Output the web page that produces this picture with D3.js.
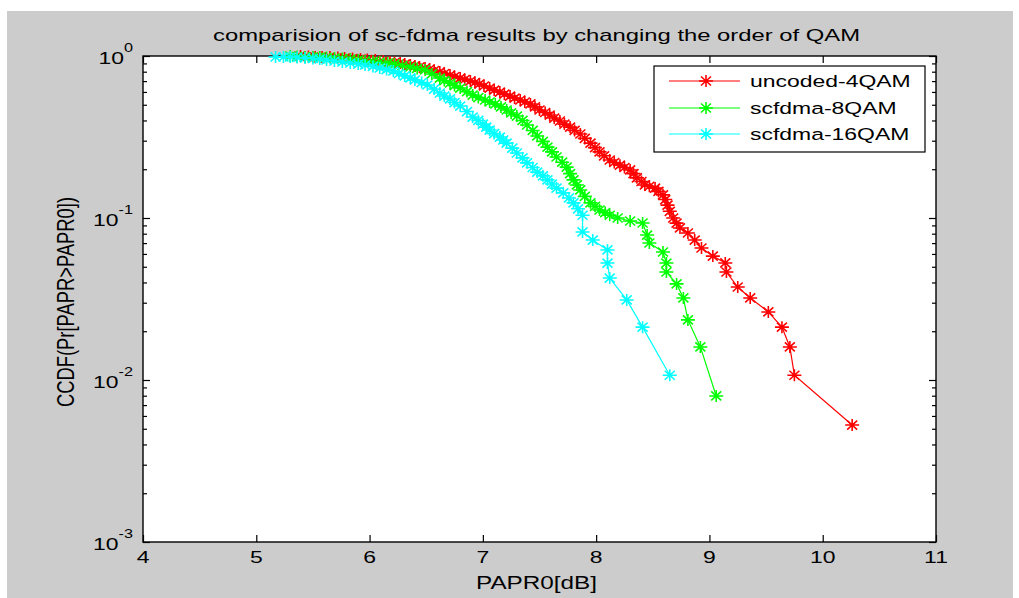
<!DOCTYPE html>
<html>
<head>
<meta charset="utf-8">
<script src="https://cdn.jsdelivr.net/npm/d3@7"></script>
<style>
  html, body { margin: 0; padding: 0; background: #ffffff; }
  svg { display: block; }
  text { font-family: "Liberation Sans", Arial, sans-serif; fill: #000; }
</style>
</head>
<body>
<svg id="chart" width="1019" height="598"></svg>
<script>
// ---------------- data ----------------
const chartTitle = "comparision of sc-fdma results by changing the order of QAM";
const xLabel = "PAPR0[dB]";
const yLabel = "CCDF(Pr[PAPR>PAPR0])";
const seriesNames = ["uncoded-4QAM", "scfdma-8QAM", "scfdma-16QAM"];
const seriesColors = ["#ff0000", "#00ff00", "#00ffff"];

const xTicks = [4, 5, 6, 7, 8, 9, 10, 11];
const yTicks = [1e-3, 1e-2, 1e-1, 1];
const yTickExponents = ["-3", "-2", "-1", "0"];

// [PAPR0 dB, CCDF]
const uncodedPoints = [
  [5.39, 1.000], [5.46, 0.993], [5.52, 0.986], [5.58, 0.986], [5.65, 0.986], [5.72, 0.979], [5.78, 0.972],
  [5.85, 0.965], [5.92, 0.958], [5.98, 0.951], [6.05, 0.945], [6.12, 0.931], [6.18, 0.918], [6.22, 0.912],
  [6.27, 0.905], [6.31, 0.892], [6.36, 0.880], [6.40, 0.868], [6.44, 0.855], [6.49, 0.843], [6.53, 0.831],
  [6.57, 0.814], [6.62, 0.797], [6.66, 0.780], [6.71, 0.763], [6.75, 0.747], [6.80, 0.731], [6.84, 0.716],
  [6.89, 0.701], [6.93, 0.686], [6.97, 0.672], [7.01, 0.653], [7.06, 0.634], [7.10, 0.616], [7.15, 0.599],
  [7.19, 0.582], [7.24, 0.566], [7.28, 0.550], [7.33, 0.535], [7.37, 0.520], [7.42, 0.506], [7.46, 0.485],
  [7.50, 0.464], [7.55, 0.448], [7.59, 0.432], [7.63, 0.414], [7.68, 0.397], [7.72, 0.380], [7.77, 0.364],
  [7.81, 0.347], [7.86, 0.330], [7.90, 0.310], [7.95, 0.290], [7.99, 0.272], [8.03, 0.256], [8.07, 0.242],
  [8.12, 0.228], [8.16, 0.220], [8.21, 0.212], [8.25, 0.205], [8.30, 0.198], [8.33, 0.188], [8.36, 0.177],
  [8.40, 0.168], [8.43, 0.160], [8.47, 0.157], [8.52, 0.153], [8.55, 0.146], [8.59, 0.139], [8.61, 0.130],
  [8.63, 0.120], [8.65, 0.110], [8.68, 0.100], [8.71, 0.093], [8.74, 0.0868], [8.81, 0.0808], [8.87, 0.0731],
  [8.93, 0.0653], [9.03, 0.0582], [9.14, 0.0528], [9.15, 0.0464], [9.25, 0.0375], [9.36, 0.0321], [9.52, 0.0263],
  [9.64, 0.0212], [9.71, 0.0160], [9.75, 0.0107], [10.26, 0.00527]
];

const qam8Points = [
  [5.30, 1.000], [5.36, 0.993], [5.43, 0.986], [5.50, 0.986], [5.56, 0.986], [5.62, 0.979], [5.69, 0.972],
  [5.76, 0.965], [5.83, 0.958], [5.90, 0.945], [5.96, 0.931], [6.03, 0.925], [6.09, 0.918], [6.16, 0.905],
  [6.22, 0.893], [6.29, 0.874], [6.36, 0.855], [6.42, 0.838], [6.49, 0.820], [6.55, 0.775], [6.62, 0.731],
  [6.66, 0.705], [6.71, 0.681], [6.75, 0.657], [6.80, 0.634], [6.86, 0.603], [6.91, 0.574], [6.96, 0.554],
  [7.02, 0.535], [7.06, 0.520], [7.11, 0.506], [7.16, 0.485], [7.21, 0.464], [7.25, 0.445], [7.30, 0.426],
  [7.35, 0.400], [7.39, 0.375], [7.44, 0.347], [7.48, 0.321], [7.53, 0.297], [7.57, 0.274], [7.61, 0.256],
  [7.65, 0.238], [7.70, 0.221], [7.74, 0.206], [7.77, 0.188], [7.80, 0.172], [7.83, 0.160], [7.86, 0.149],
  [7.90, 0.136], [7.95, 0.124], [7.99, 0.118], [8.03, 0.112], [8.08, 0.108], [8.12, 0.104], [8.19, 0.100],
  [8.30, 0.0958], [8.41, 0.0931], [8.45, 0.0785], [8.47, 0.0701], [8.59, 0.0617], [8.62, 0.0527], [8.62, 0.0464],
  [8.71, 0.0392], [8.77, 0.0321], [8.81, 0.0235], [8.92, 0.0160], [9.06, 0.00797]
];

const qam16Points = [
  [5.17, 0.986], [5.24, 0.986], [5.30, 0.986], [5.36, 0.979], [5.43, 0.972], [5.50, 0.965], [5.56, 0.958],
  [5.62, 0.945], [5.69, 0.931], [5.76, 0.918], [5.83, 0.905], [5.90, 0.892], [5.96, 0.880], [6.03, 0.862],
  [6.09, 0.843], [6.15, 0.825], [6.21, 0.808], [6.26, 0.780], [6.31, 0.753], [6.36, 0.732], [6.40, 0.711],
  [6.46, 0.686], [6.51, 0.662], [6.57, 0.625], [6.62, 0.591], [6.66, 0.566], [6.71, 0.543], [6.75, 0.516],
  [6.80, 0.491], [6.86, 0.454], [6.91, 0.420], [6.96, 0.400], [7.00, 0.380], [7.03, 0.364], [7.06, 0.349],
  [7.10, 0.332], [7.15, 0.316], [7.18, 0.303], [7.21, 0.290], [7.26, 0.270], [7.30, 0.252], [7.35, 0.235],
  [7.39, 0.219], [7.44, 0.205], [7.48, 0.192], [7.53, 0.182], [7.57, 0.172], [7.61, 0.162], [7.65, 0.153],
  [7.71, 0.143], [7.76, 0.133], [7.80, 0.124], [7.84, 0.114], [7.88, 0.104], [7.88, 0.0820], [7.97, 0.0731],
  [8.10, 0.0635], [8.10, 0.0527], [8.12, 0.0426], [8.27, 0.0312], [8.41, 0.0212], [8.65, 0.0107]
];

// ---------------- layout ----------------
const svg = d3.select("#chart");
const W = 1019, H = 598;
const plot = { left: 143, right: 936, top: 56, bottom: 542 };

svg.append("rect").attr("x", 0).attr("y", 0).attr("width", W).attr("height", H).attr("fill", "#ffffff");
svg.append("rect").attr("x", 7).attr("y", 11).attr("width", 1006).attr("height", H - 11).attr("fill", "#cccccc");
svg.append("rect").attr("x", plot.left).attr("y", plot.top)
  .attr("width", plot.right - plot.left).attr("height", plot.bottom - plot.top).attr("fill", "#ffffff");

const x = d3.scaleLinear().domain([4, 11]).range([plot.left, plot.right]);
const y = d3.scaleLog().domain([1e-3, 1]).range([plot.bottom, plot.top]);

const SX = 1.35; // horizontal stretch of the reference's lettering

const minorTicks = [];
for (let e = -3; e < 0; e++) for (let m = 2; m <= 9; m++) minorTicks.push(m * Math.pow(10, e));

function styleAxis(g) {
  g.select(".domain").remove();
  g.selectAll(".tick line").attr("stroke", "#000").attr("stroke-width", 1.2);
  g.selectAll(".tick text").remove();
}

svg.append("g").attr("transform", `translate(0,${plot.bottom})`)
  .call(d3.axisBottom(x).tickValues(xTicks).tickSize(-7)).call(styleAxis);
svg.append("g").attr("transform", `translate(0,${plot.top})`)
  .call(d3.axisTop(x).tickValues(xTicks).tickSize(-7)).call(styleAxis);
svg.append("g").attr("transform", `translate(${plot.left},0)`)
  .call(d3.axisLeft(y).tickValues(yTicks).tickSize(-7)).call(styleAxis);
svg.append("g").attr("transform", `translate(${plot.left},0)`)
  .call(d3.axisLeft(y).tickValues(minorTicks).tickSize(-4)).call(styleAxis);
svg.append("g").attr("transform", `translate(${plot.right},0)`)
  .call(d3.axisRight(y).tickValues(yTicks).tickSize(-7)).call(styleAxis);
svg.append("g").attr("transform", `translate(${plot.right},0)`)
  .call(d3.axisRight(y).tickValues(minorTicks).tickSize(-4)).call(styleAxis);

svg.append("rect").attr("x", plot.left).attr("y", plot.top)
  .attr("width", plot.right - plot.left).attr("height", plot.bottom - plot.top)
  .attr("fill", "none").attr("stroke", "#000").attr("stroke-width", 1.4);

svg.append("g").selectAll("text").data(xTicks).join("text")
  .attr("transform", d => `translate(${x(d)},563) scale(${SX},1)`)
  .attr("text-anchor", "middle").attr("font-size", 17).text(d => d);

const yl = svg.append("g").selectAll("text").data(yTicks).join("text")
  .attr("transform", d => `translate(133,${y(d) + 8}) scale(${SX},1)`)
  .attr("text-anchor", "end").attr("font-size", 17);
yl.append("tspan").text("10");
yl.append("tspan").attr("font-size", 12).attr("dy", -12).text((d, i) => yTickExponents[i]);

svg.append("text").attr("x", 536.5).attr("y", 41).attr("text-anchor", "middle")
  .attr("font-size", 17).attr("textLength", 647).attr("lengthAdjust", "spacingAndGlyphs").text(chartTitle);
svg.append("text").attr("x", 536.5).attr("y", 589).attr("text-anchor", "middle")
  .attr("font-size", 18).attr("textLength", 121).attr("lengthAdjust", "spacingAndGlyphs").text(xLabel);
svg.append("text").attr("transform", `translate(74,302) rotate(-90) scale(1,1.3)`)
  .attr("text-anchor", "middle").attr("font-size", 18)
  .attr("textLength", 210).attr("lengthAdjust", "spacingAndGlyphs").text(yLabel);

// ---------------- series ----------------
const starPath = "M-7,0H7M0,-6V6M-5,-4.5L5,4.5M-5,4.5L5,-4.5";
const series = [uncodedPoints, qam8Points, qam16Points];
const line = d3.line().x(d => x(d[0])).y(d => y(d[1]));

series.forEach((pts, i) => {
  const g = svg.append("g");
  g.append("path").datum(pts).attr("d", line)
    .attr("fill", "none").attr("stroke", seriesColors[i]).attr("stroke-width", 1.2);
  g.selectAll("path.m").data(pts).join("path").attr("class", "m")
    .attr("transform", d => `translate(${x(d[0])},${y(d[1])})`)
    .attr("d", starPath).attr("fill", "none")
    .attr("stroke", seriesColors[i]).attr("stroke-width", 1.6);
});

// ---------------- legend ----------------
const lg = svg.append("g");
lg.append("rect").attr("x", 654).attr("y", 66).attr("width", 271).attr("height", 86)
  .attr("fill", "#ffffff").attr("stroke", "#000").attr("stroke-width", 1.2);
const rowY = [81, 108, 134];
seriesNames.forEach((n, i) => {
  lg.append("line").attr("x1", 669).attr("x2", 740).attr("y1", rowY[i]).attr("y2", rowY[i])
    .attr("stroke", seriesColors[i]).attr("stroke-width", 1.2);
  lg.append("path").attr("transform", `translate(706,${rowY[i]})`).attr("d", starPath)
    .attr("fill", "none").attr("stroke", seriesColors[i]).attr("stroke-width", 1.6);
  lg.append("text").attr("transform", `translate(750,${rowY[i] + 6}) scale(${SX},1)`)
    .attr("font-size", 17).text(n);
});
</script>
</body>
</html>
